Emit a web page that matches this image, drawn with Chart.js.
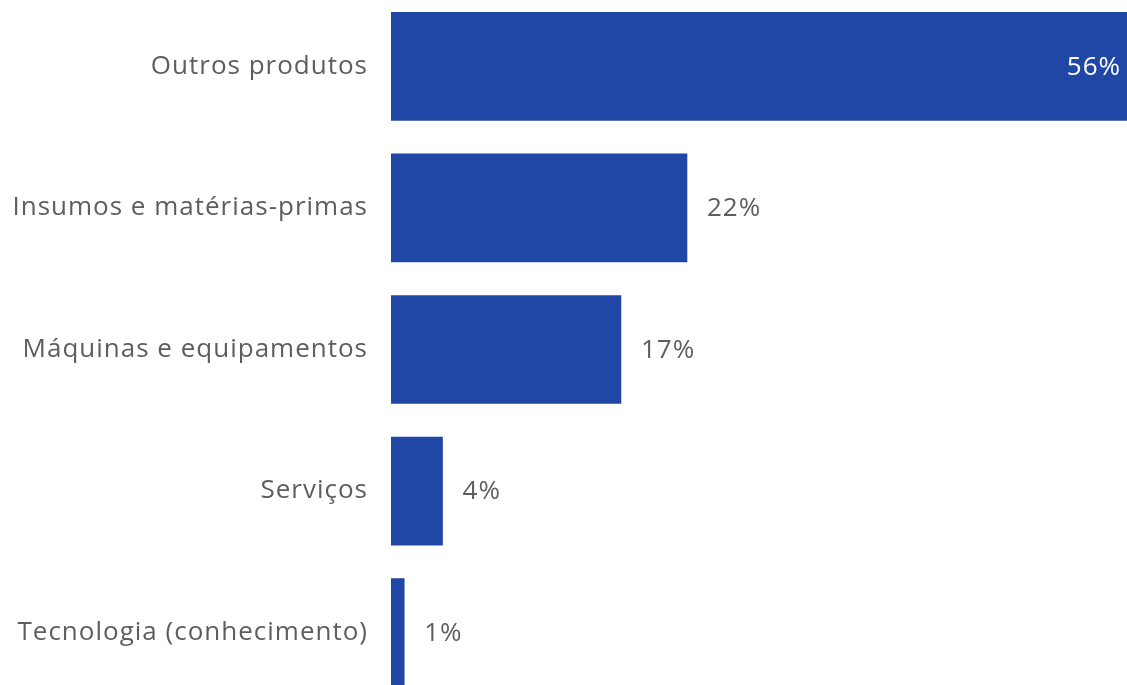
<!DOCTYPE html>
<html>
<head>
<meta charset="utf-8">
<script src="https://cdn.jsdelivr.net/npm/chart.js@4/dist/chart.umd.min.js"></script>
<style>
  html, body { margin: 0; padding: 0; background: #fff; overflow: hidden; }
  #wrap { position: absolute; left: 0; top: -43px; width: 1127px; height: 785px; }
</style>
</head>
<body>
<div id="wrap"><canvas id="chart"></canvas></div>
<script>
// Categories and shares (%)
const categories = [
  "Outros produtos",
  "Insumos e matérias-primas",
  "Máquinas e equipamentos",
  "Serviços",
  "Tecnologia (conhecimento)",
];
const shares = [55.7, 22.4, 17.4, 3.9, 1.0];
const xMax = 55.7;

const barColor = "#2046a6";
const textColor = "#605e5c";
const fontFamily = "'Open Sans', 'Noto Sans', sans-serif";
const fontSize = 26;

// a little tracking so Open Sans runs as wide as the original Segoe UI
const tracking = {
  id: "tracking",
  beforeDraw(chart) { chart.ctx.letterSpacing = "1px"; },
};

// value labels: outside the bar in grey, or inside in white when there is no room
const valueLabels = {
  id: "valueLabels",
  afterDatasetsDraw(chart) {
    const { ctx, chartArea } = chart;
    const meta = chart.getDatasetMeta(0);
    ctx.save();
    ctx.font = fontSize + "px " + fontFamily;
    ctx.textBaseline = "middle";
    meta.data.forEach((bar, i) => {
      const text = Math.round(shares[i]) + "%";
      const w = ctx.measureText(text).width;
      if (bar.x + 20 + w > chartArea.right) {
        ctx.fillStyle = "#ffffff";
        ctx.textAlign = "right";
        ctx.fillText(text, bar.x - 6, bar.y + 1);
      } else {
        ctx.fillStyle = textColor;
        ctx.textAlign = "left";
        ctx.fillText(text, bar.x + 20, bar.y + 1);
      }
    });
    ctx.restore();
  },
};

new Chart(document.getElementById("chart"), {
  type: "bar",
  data: {
    labels: categories,
    datasets: [
      {
        data: shares,
        backgroundColor: barColor,
        barThickness: 108,
      },
    ],
  },
  options: {
    indexAxis: "y",
    responsive: true,
    maintainAspectRatio: false,
    animation: false,
    layout: { padding: 0 },
    plugins: { legend: { display: false }, tooltip: { enabled: false } },
    scales: {
      x: { display: false, min: 0, max: xMax },
      y: {
        grid: { display: false, drawTicks: false },
        border: { display: false },
        afterFit(scale) { scale.width = 391; },
        ticks: {
          color: textColor,
          padding: 23,
          font: { family: fontFamily, size: fontSize },
        },
      },
    },
  },
  plugins: [tracking, valueLabels],
});
</script>
</body>
</html>
